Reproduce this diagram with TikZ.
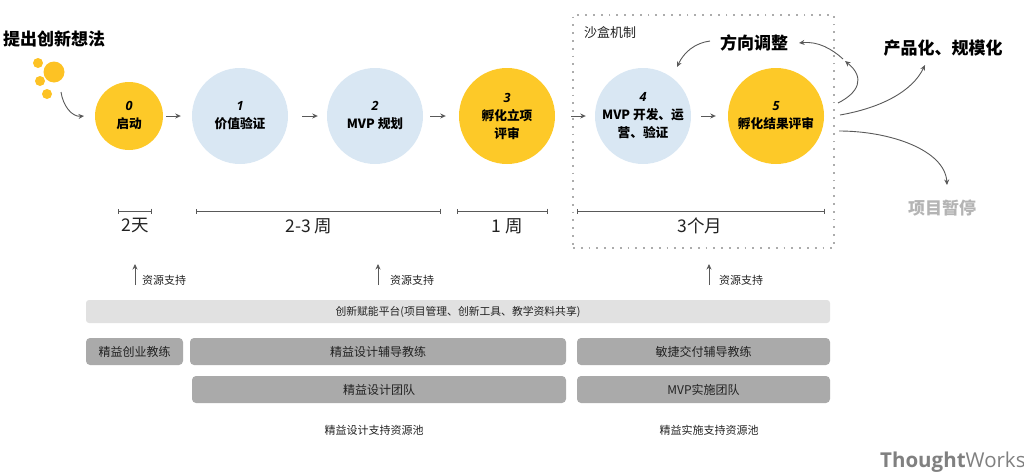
\documentclass[tikz,border=0pt]{standalone}
\usepackage{fontspec}
\setmainfont{Noto Sans CJK SC}
\newfontfamily\numf{Open Sans}
\usetikzlibrary{arrows.meta}
\definecolor{ybg}{HTML}{FDC928}
\definecolor{bbg}{HTML}{D9E7F3}
\definecolor{lin}{HTML}{595959}
\definecolor{bar1}{HTML}{E1E1E1}
\definecolor{bar2}{HTML}{AAAAAA}
\definecolor{txt}{HTML}{222222}
\definecolor{pause}{HTML}{B4B4B4}
\newcommand{\stepnum}[1]{{\numf\bfseries\itshape #1}\\}
\tikzset{
  x=1pt,y=-1pt,
  circ/.style={circle,inner sep=0pt,align=center,text=black,font=\fontsize{12.7}{18}\selectfont\bfseries},
  yc/.style={circ,fill=ybg,minimum size=96pt},
  bc/.style={circ,fill=bbg,minimum size=96pt},
  dot/.style={circle,fill=ybg!90!orange,inner sep=0pt},
  arr/.style={draw=lin,line width=0.9pt,-{Stealth[length=5.5pt,width=5pt]}},
  rng/.style={draw=lin,line width=0.8pt,{Bar[width=5pt]}-{Bar[width=5pt]}},
  head/.style={inner sep=0pt,text=black,font=\fontsize{17}{20}\selectfont\bfseries},
  dur/.style={inner sep=0pt,text=txt,font=\fontsize{17.5}{20}\selectfont},
  sup/.style={inner sep=0pt,text=txt,font=\fontsize{11}{13}\selectfont},
  plat/.style={rounded corners=3pt,fill=bar1,inner sep=0pt,text=txt,font=\fontsize{10.8}{13}\selectfont,minimum height=23pt},
  team/.style={rounded corners=4pt,fill=bar2,inner sep=0pt,text=txt,font=\fontsize{12}{14}\selectfont,minimum height=27pt},
}
\begin{document}
\begin{tikzpicture}
\useasboundingbox (0,0) rectangle (1024,474);
% sandbox
\node[draw=lin!50,line width=1.8pt,dash pattern=on 1.8pt off 6pt,minimum width=261pt,minimum height=233pt,inner sep=0pt] (sandbox) at (703.5,131.5) {};
\node[inner sep=0pt,text=txt,font=\fontsize{13}{15}\selectfont] (sbl) at (610,33) {沙盒机制};
% idea
\node[head,anchor=west] (idea) at (3,39) {提出创新想法};
\node[dot,minimum size=10pt] (d1) at (38,63) {};
\node[dot,minimum size=21pt] (d2) at (54,72) {};
\node[dot,minimum size=10pt] (d3) at (40,81) {};
\node[dot,minimum size=10pt] (d4) at (47,94) {};
% circles
\node[yc,minimum size=68pt] (c0) at (129,116) {\stepnum{0}启动};
\node[bc] (c1) at (240,116) {\stepnum{1}价值验证};
\node[bc] (c2) at (375,116) {\stepnum{2}MVP 规划};
\node[yc] (c3) at (507,116) {\stepnum{3}孵化立项\\评审};
\node[bc] (c4) at (643,116) {\stepnum{4}MVP 开发、运\\营、验证};
\node[yc] (c5) at (776,116) {\stepnum{5}孵化结果评审};
% outcome labels
\node[head] (adj) at (754,43) {方向调整};
\node[head] (prod) at (943,48) {产品化、规模化};
\node[head,text=pause] (stop) at (942,208) {项目暂停};
% coordinates of free ends
\coordinate (ideaS) at (61,92);
\coordinate (ideaE) at (84,116);
\coordinate (o1) at (838,103);
\coordinate (o1e) at (845,61);
\coordinate (o2) at (843,59);
\coordinate (adjIn) at (799,43);
\coordinate (adjOut) at (710,41);
\coordinate (c4In) at (677,67);
\coordinate (o3) at (840,115);
\coordinate (prodIn) at (925,65);
\coordinate (o4) at (839,131);
\coordinate (stopIn) at (947,185);
% connectors
\draw[arr] (ideaS) .. controls (63,106) and (72,117) .. (ideaE);
\draw[arr,shorten <=3pt,shorten >=11pt] (c0) -- (c1);
\draw[arr,shorten <=14pt,shorten >=9pt] (c1) -- (c2);
\draw[arr,shorten <=7pt,shorten >=13pt] (c2) -- (c3);
\draw[arr,shorten <=16pt,shorten >=9pt] (c3) -- (c4);
\draw[arr,shorten <=10pt,shorten >=12pt] (c4) -- (c5);
\draw[arr] (o1) .. controls (858,93) and (866,78) .. (o1e);
\draw[arr] (o2) .. controls (832,49) and (818,41) .. (adjIn);
\draw[arr] (adjOut) .. controls (695,43) and (684,52) .. (c4In);
\draw[arr] (o3) .. controls (880,108) and (912,92) .. (prodIn);
\draw[arr] (o4) .. controls (890,131) and (945,150) .. (stopIn);
% durations
\coordinate (r0a) at (118,211); \coordinate (r0b) at (152,211);
\coordinate (r1a) at (196,211); \coordinate (r1b) at (441,211);
\coordinate (r2a) at (457,211); \coordinate (r2b) at (548,211);
\coordinate (r3a) at (577,211); \coordinate (r3b) at (825,211);
\draw[rng] (r0a) -- (r0b);
\draw[rng] (r1a) -- (r1b);
\draw[rng] (r2a) -- (r2b);
\draw[rng] (r3a) -- (r3b);
\node[dur] (t0) at (135,226) {2天};
\node[dur] (t1) at (309,226) {2-3 周};
\node[dur] (t2) at (507,226) {1 周};
\node[dur] (t3) at (700,226) {3个月};
% resources
\node[sup] (s0) at (164,280) {资源支持};
\node[sup] (s1) at (412,280) {资源支持};
\node[sup] (s2) at (741,280) {资源支持};
\coordinate (a0s) at (135,285); \coordinate (a0e) at (135,264);
\coordinate (a1s) at (378,285); \coordinate (a1e) at (378,264);
\coordinate (a2s) at (709,285); \coordinate (a2e) at (709,264);
\draw[arr,line width=0.7pt] (a0s) -- (a0e);
\draw[arr,line width=0.7pt] (a1s) -- (a1e);
\draw[arr,line width=0.7pt] (a2s) -- (a2e);
% bars
\node[plat,minimum width=744pt] (platform) at (458,311.5) {创新赋能平台(项目管理、创新工具、教学资料共享)};
\node[team,minimum width=97pt] (b0) at (134.5,351.5) {精益创业教练};
\node[team,minimum width=376pt] (b1) at (378,351.5) {精益设计辅导教练};
\node[team,minimum width=253pt] (b2) at (703.5,351.5) {敏捷交付辅导教练};
\node[team,minimum width=374pt] (b3) at (379,389.5) {精益设计团队};
\node[team,minimum width=253pt] (b4) at (703.5,389.5) {MVP实施团队};
\node[sup] (p1) at (374,430) {精益设计支持资源池};
\node[sup] (p2) at (709,430) {精益实施支持资源池};
% logo
\node[inner sep=0pt,anchor=west,text=black!50,font=\fontsize{20.5}{22}\selectfont] (logo) at (880,462) {{\numf\bfseries Thought}{\numf Works}};
\end{tikzpicture}
\end{document}
